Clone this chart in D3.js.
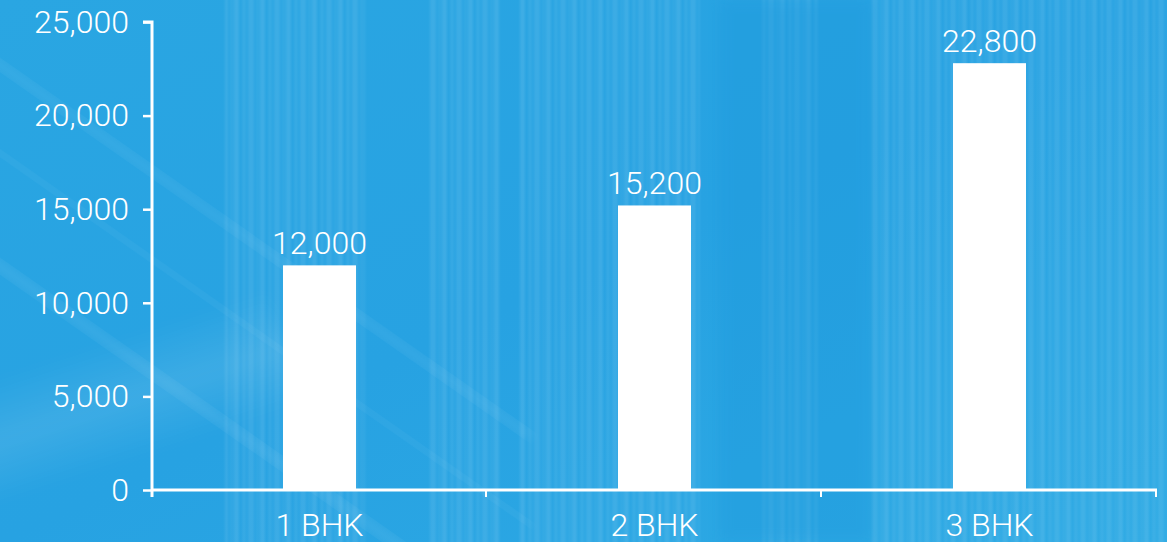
<!DOCTYPE html>
<html>
<head>
<meta charset="utf-8">
<script src="https://cdn.jsdelivr.net/npm/d3@7"></script>
<style>
  html, body { margin: 0; padding: 0; overflow: hidden; }
  svg { display: block; }
  text { font-family: "Helvetica Neue", Roboto, "Liberation Sans", sans-serif; font-weight: 300; }
</style>
</head>
<body>
<svg id="chart" width="1167" height="542"></svg>
<script>
// Average price by flat size
const categories = ["1 BHK", "2 BHK", "3 BHK"];
const values = [12000, 15200, 22800];
const yTicks = [0, 5000, 10000, 15000, 20000, 25000];

const W = 1167, H = 542;
const margin = { left: 152, right: 10, top: 22, bottom: 52 };
const FONT = 32;

const svg = d3.select("#chart");
const defs = svg.append("defs");

// Blue backdrop: soft gradient, faint vertical light streaks and a diagonal glare
const bg = defs.append("linearGradient").attr("id", "bg")
  .attr("x1", "0").attr("y1", "0").attr("x2", "1").attr("y2", "1");
bg.append("stop").attr("offset", "0%").attr("stop-color", "#2aa6e2");
bg.append("stop").attr("offset", "50%").attr("stop-color", "#27a2e2");
bg.append("stop").attr("offset", "100%").attr("stop-color", "#2eaae4");

const stripes = defs.append("pattern").attr("id", "stripes")
  .attr("patternUnits", "userSpaceOnUse").attr("width", 26).attr("height", 542);
[[0, 5, 0.10], [8, 4, 0.07], [14, 6, 0.09], [22, 3, 0.06]].forEach(([x, w, o]) => {
  stripes.append("rect").attr("x", x).attr("y", 0).attr("width", w).attr("height", 542)
    .attr("fill", "#ffffff").attr("opacity", o);
});

const glare = defs.append("linearGradient").attr("id", "glare")
  .attr("x1", "0").attr("y1", "0").attr("x2", "0").attr("y2", "1");
glare.append("stop").attr("offset", "0%").attr("stop-color", "#ffffff").attr("stop-opacity", 0);
glare.append("stop").attr("offset", "50%").attr("stop-color", "#ffffff").attr("stop-opacity", 0.10);
glare.append("stop").attr("offset", "100%").attr("stop-color", "#ffffff").attr("stop-opacity", 0);

const soft = defs.append("filter").attr("id", "soft")
  .attr("x", "-20%").attr("y", "-20%").attr("width", "140%").attr("height", "140%");
soft.append("feGaussianBlur").attr("stdDeviation", 6);
const haze = defs.append("filter").attr("id", "haze");
haze.append("feGaussianBlur").attr("stdDeviation", "1.2 0");

svg.append("rect").attr("width", W).attr("height", H).attr("fill", "url(#bg)");

// streak bands where the backdrop shows vertical lines
const streaks = svg.append("g").attr("filter", "url(#haze)");
[[225, 140], [430, 70], [520, 180], [760, 60], [870, 297]].forEach(([x, w]) => {
  streaks.append("rect").attr("x", x).attr("y", 0).attr("width", w).attr("height", H)
    .attr("fill", "url(#stripes)");
});
// darker panel in the middle-right
svg.append("rect").attr("x", 720).attr("y", 0).attr("width", 150).attr("height", H)
  .attr("fill", "#1f98dc").attr("opacity", 0.35).attr("filter", "url(#soft)");
// diagonal glare lines on the left
[[60, 8], [150, 5], [260, 10]].forEach(([y0, h]) => {
  svg.append("rect").attr("x", -50).attr("y", y0).attr("width", 700).attr("height", h)
    .attr("fill", "#ffffff").attr("opacity", 0.10).attr("filter", "url(#soft)")
    .attr("transform", `rotate(35 0 ${y0})`);
});
svg.append("rect").attr("x", -200).attr("y", 380).attr("width", 500).attr("height", 120)
  .attr("fill", "url(#glare)").attr("filter", "url(#soft)")
  .attr("transform", "rotate(-18 0 440)");

// Scales
const x = d3.scaleBand().domain(categories).range([margin.left, W - margin.right]).paddingInner(0).paddingOuter(0);
const y = d3.scaleLinear().domain([0, 25000]).range([H - margin.bottom, margin.top]);
const barW = 73;
const fmt = d3.format(",");

// Bars
svg.append("g").selectAll("rect").data(values).join("rect")
  .attr("x", (d, i) => x(categories[i]) + x.bandwidth() / 2 - barW / 2)
  .attr("y", d => y(d))
  .attr("width", barW)
  .attr("height", d => y(0) - y(d))
  .attr("fill", "#ffffff");

// Value labels
svg.append("g").selectAll("text").data(values).join("text")
  .attr("x", (d, i) => x(categories[i]) + x.bandwidth() / 2)
  .attr("y", d => y(d) - 11)
  .attr("text-anchor", "middle")
  .attr("fill", "#ffffff")
  .attr("font-size", FONT)
  .text(d => fmt(d));

// Y axis
const yAxis = svg.append("g").attr("transform", `translate(${margin.left},0)`)
  .call(d3.axisLeft(y).tickValues(yTicks).tickFormat(fmt).tickSize(9).tickPadding(14));
yAxis.select(".domain").attr("d", `M-9,${y(25000)}H0V${y(0) + 7}`);

// X axis with ticks on band edges
const xAxis = svg.append("g").attr("transform", `translate(0,${y(0)})`);
xAxis.append("line").attr("x1", margin.left).attr("x2", W - margin.right)
  .attr("y1", 0).attr("y2", 0).attr("stroke", "#fff").attr("stroke-width", 3);
const edges = categories.map(c => x(c)).concat([x(categories[categories.length - 1]) + x.bandwidth()]);
xAxis.selectAll(".edge").data(edges.slice(1)).join("line").attr("class", "edge")
  .attr("x1", d => d - 1).attr("x2", d => d - 1).attr("y1", 0).attr("y2", 7)
  .attr("stroke", "#fff").attr("stroke-width", 2);
xAxis.selectAll(".lbl").data(categories).join("text").attr("class", "lbl")
  .attr("x", d => x(d) + x.bandwidth() / 2)
  .attr("y", 46)
  .attr("text-anchor", "middle")
  .attr("fill", "#fff")
  .attr("font-size", FONT)
  .text(d => d);

yAxis.selectAll(".domain").attr("stroke", "#fff").attr("stroke-width", 3).attr("fill", "none");
yAxis.selectAll(".tick line").attr("stroke", "#fff").attr("stroke-width", 2.5);
yAxis.selectAll(".tick text").attr("fill", "#fff").attr("font-size", FONT)
  .style("font-family", "\"Helvetica Neue\", Roboto, \"Liberation Sans\", sans-serif").style("font-weight", 300);
yAxis.attr("font-family", null).attr("font-size", null);
</script>
</body>
</html>
